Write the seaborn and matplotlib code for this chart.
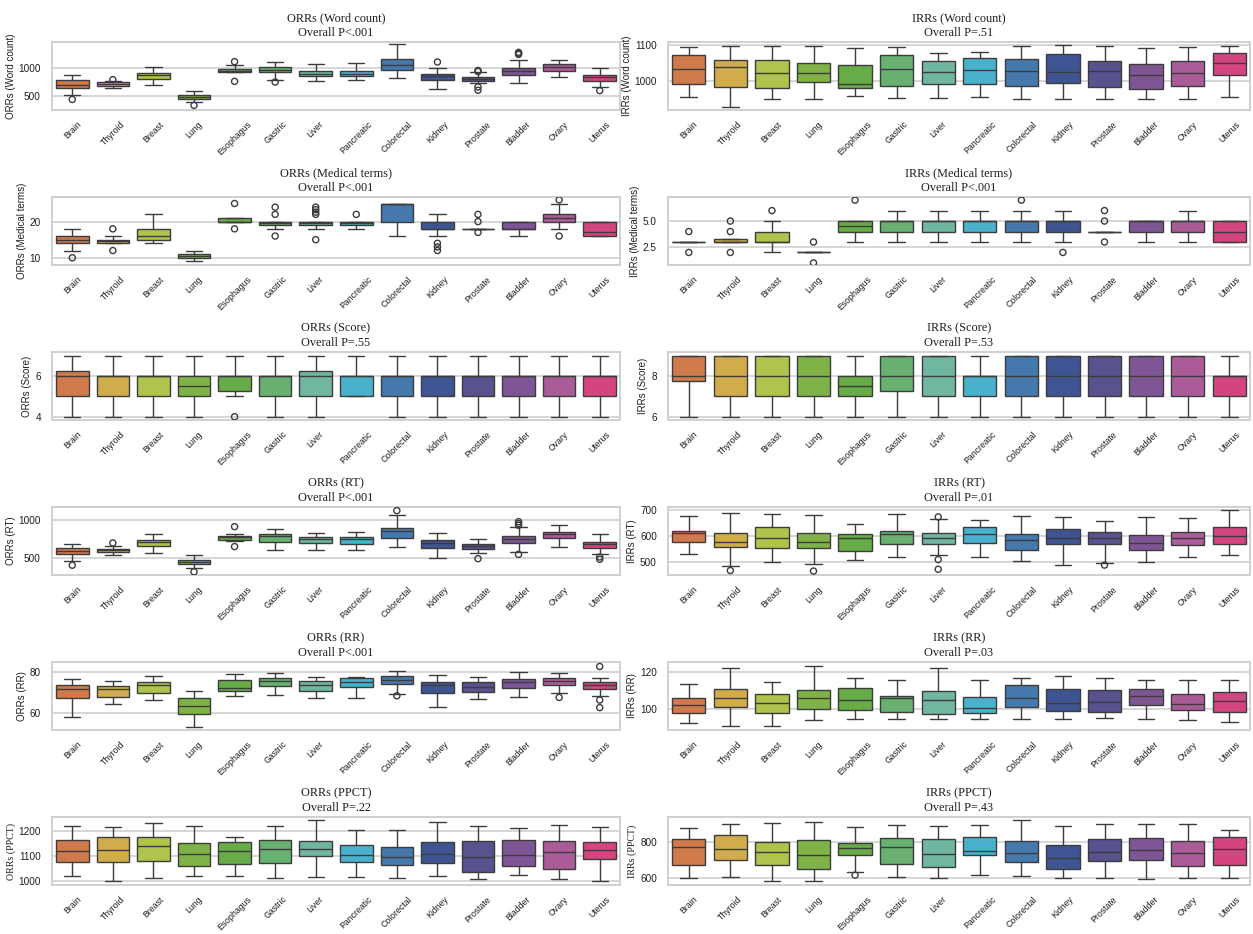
import matplotlib
matplotlib.use("Agg")
import matplotlib.pyplot as plt
import pandas as pd
import seaborn as sns

# ---------------------------------------------------------------------------
# Data: per-cancer box summaries (low whisker, Q1, median, Q3, high whisker)
# and the outlying readings drawn as open circles.
# ---------------------------------------------------------------------------
categories = ["Brain", "Thyroid", "Breast", "Lung", "Esophagus", "Gastric", "Liver",
              "Pancreatic", "Colorectal", "Kidney", "Prostate", "Bladder", "Ovary", "Uterus"]

colors = ["#d0794a", "#d0ad4a", "#afc34d", "#7fb347", "#67ac47", "#67b06f", "#70b7a2",
          "#4ab1cd", "#4579ae", "#3f5593", "#58528f", "#7f5695", "#ab5c98", "#d44580"]

orr_word_stats = [(506, 639, 699, 777, 880), (639, 681, 717, 741, 772), (687, 807, 874, 910, 1030),
                  (386, 440, 476, 518, 590), (922, 934, 958, 982, 1060), (789, 922, 970, 1030, 1120),
                  (771, 850, 898, 946, 1078), (777, 850, 898, 958, 1090), (819, 970, 1060, 1169, 1440),
                  (627, 777, 850, 898, 1000), (729, 771, 801, 838, 928), (729, 867, 952, 1000, 1150),
                  (838, 952, 1030, 1078, 1150), (657, 771, 838, 880, 1012)]
orr_word_out_cat = ["Brain", "Thyroid", "Lung", "Esophagus", "Esophagus", "Gastric", "Kidney",
                    "Prostate", "Prostate", "Prostate", "Prostate", "Bladder", "Bladder", "Bladder", "Uterus"]
orr_word_out_val = [428, 790, 320, 1120, 759, 747, 1114, 958, 940, 657, 597, 1290, 1270, 1253, 590]

irr_word_stats = [(956, 993, 1034, 1072, 1095), (929, 984, 1040, 1059, 1099), (951, 981, 1023, 1059, 1099),
                  (950, 997, 1023, 1050, 1099), (958, 981, 993, 1045, 1091), (952, 988, 1035, 1073, 1096),
                  (954, 991, 1026, 1056, 1079), (956, 993, 1032, 1065, 1081), (951, 988, 1029, 1061, 1099),
                  (951, 996, 1027, 1075, 1101), (951, 984, 1029, 1056, 1099), (950, 977, 1018, 1047, 1093),
                  (951, 988, 1023, 1056, 1096), (955, 1018, 1052, 1079, 1099)]
irr_word_out_cat = []
irr_word_out_val = []

orr_med_stats = [(12, 14, 15, 16, 18), (14, 14, 14.5, 15, 16), (14, 15, 16, 18, 22), (9, 10, 10.5, 11, 12),
                 (20, 20, 20, 21, 21), (18, 19, 19.5, 20, 20), (18, 19, 19.5, 20, 20), (18, 19, 19.5, 20, 20),
                 (16, 20, 25, 25, 25), (16, 18, 18, 20, 22), (18, 18, 18, 18, 18), (16, 18, 18, 20, 20),
                 (18, 20, 21, 22, 25), (16, 16, 17, 20, 20)]
orr_med_out_cat = ["Brain", "Thyroid", "Thyroid", "Esophagus", "Esophagus", "Gastric", "Gastric", "Gastric",
                   "Liver", "Liver", "Liver", "Liver", "Liver", "Pancreatic", "Kidney", "Kidney", "Kidney",
                   "Prostate", "Prostate", "Prostate", "Ovary", "Ovary"]
orr_med_out_val = [10, 18, 12, 25, 18, 24, 22, 16, 24, 23.3, 22.6, 22, 15, 22, 14, 13, 12, 22, 20, 17, 26, 16]

irr_med_stats = [(3, 3, 3, 3, 3), (3, 3, 3, 3.25, 3.25), (2, 3, 3, 4, 5), (2, 2, 2, 2, 2), (3, 4, 4.5, 5, 5),
                 (3, 4, 5, 5, 6), (3, 4, 5, 5, 6), (3, 4, 5, 5, 6), (3, 4, 5, 5, 6), (3, 4, 5, 5, 6),
                 (4, 4, 4, 4, 4), (3, 4, 5, 5, 5), (3, 4, 5, 5, 6), (3, 3, 4, 5, 5)]
irr_med_out_cat = ["Brain", "Brain", "Thyroid", "Thyroid", "Thyroid", "Breast", "Lung", "Lung", "Esophagus",
                   "Colorectal", "Kidney", "Prostate", "Prostate", "Prostate"]
irr_med_out_val = [4, 2, 5, 4, 2, 6, 3, 1, 7, 7, 2, 6, 5, 3]

orr_score_stats = [(4, 5, 6, 6.25, 7), (4, 5, 6, 6, 7), (4, 5, 6, 6, 7), (4, 5, 5.5, 6, 7), (5, 5.25, 6, 6, 7),
                   (4, 5, 6, 6, 7), (4, 5, 6, 6.25, 7), (5, 5, 6, 6, 7), (4, 5, 6, 6, 7), (4, 5, 6, 6, 7),
                   (4, 5, 6, 6, 7), (4, 5, 6, 6, 7), (4, 5, 6, 6, 7), (4, 5, 6, 6, 7)]
orr_score_out_cat = ["Esophagus"]
orr_score_out_val = [4]

irr_score_stats = [(6, 7.75, 8, 9, 9), (6, 7, 8, 9, 9), (6, 7, 8, 9, 9), (6, 7, 8, 9, 9), (6, 7, 7.5, 8, 9),
                   (6, 7.25, 8, 9, 9), (6, 7, 8, 9, 9), (6, 7, 8, 8, 9), (6, 7, 8, 9, 9), (6, 7, 8, 9, 9),
                   (6, 7, 8, 9, 9), (6, 7, 8, 9, 9), (6, 7, 8, 9, 9), (6, 7, 8, 8, 9)]
irr_score_out_cat = []
irr_score_out_val = []

orr_rt_stats = [(461, 548, 591, 630, 687), (535, 578, 600, 622, 665), (565, 657, 709, 735, 813),
                (365, 426, 448, 470, 543), (722, 739, 774, 796, 817), (600, 717, 787, 817, 883),
                (613, 700, 748, 778, 826), (600, 687, 748, 783, 852), (652, 765, 861, 896, 1070),
                (504, 635, 704, 735, 826), (565, 622, 665, 691, 748), (578, 700, 757, 796, 913),
                (652, 761, 817, 852, 943), (556, 635, 687, 717, 813)]
orr_rt_out_cat = ["Brain", "Thyroid", "Lung", "Esophagus", "Esophagus", "Colorectal", "Prostate",
                  "Bladder", "Bladder", "Bladder", "Bladder", "Uterus", "Uterus"]
orr_rt_out_val = [404, 700, 317, 917, 652, 1130, 491, 983, 957, 935, 548, 513, 483]

irr_rt_stats = [(534, 579, 612, 620, 677), (487, 559, 577, 614, 689), (502, 555, 594, 636, 684),
                (494, 555, 580, 611, 681), (511, 542, 594, 609, 646), (521, 569, 609, 621, 684),
                (530, 571, 594, 611, 667), (519, 576, 609, 636, 664), (504, 546, 586, 610, 677),
                (492, 569, 594, 627, 675), (499, 571, 592, 616, 659), (502, 549, 575, 606, 675),
                (521, 567, 594, 615, 669), (530, 569, 602, 637, 700)]
irr_rt_out_cat = ["Thyroid", "Lung", "Liver", "Liver", "Liver", "Prostate"]
irr_rt_out_val = [469, 467, 674, 511, 474, 490]

orr_rr_stats = [(57.9, 67.2, 71.7, 73.9, 76.8), (64.5, 68.0, 71.7, 73.1, 76.0), (66.4, 70.1, 73.6, 75.5, 78.4),
                (53.3, 59.7, 63.7, 67.2, 70.9), (68.5, 70.7, 72.5, 76.3, 79.2), (68.8, 73.3, 76.0, 77.1, 79.7),
                (67.5, 70.7, 73.6, 75.7, 77.6), (67.2, 72.8, 75.2, 77.1, 77.9), (69.3, 74.4, 76.5, 78.1, 80.5),
                (62.9, 70.1, 73.6, 75.5, 78.7), (66.7, 70.4, 72.8, 75.5, 77.9), (67.8, 72.5, 75.2, 76.6, 80.0),
                (70.1, 73.9, 75.8, 77.1, 79.8), (68.5, 72.0, 73.8, 75.2, 77.4)]
orr_rr_out_cat = ["Colorectal", "Ovary", "Uterus", "Uterus", "Uterus"]
orr_rr_out_val = [68.5, 67.7, 82.9, 66.4, 62.7]

irr_rr_stats = [(92.1, 97.4, 101.8, 106.0, 113.5), (90.5, 100.7, 105.6, 110.5, 122.1),
                (90.7, 97.5, 103.0, 108.1, 114.7), (93.7, 99.8, 106.0, 110.2, 123.2),
                (94.2, 99.1, 104.9, 111.4, 116.7), (94.2, 98.1, 106.0, 106.8, 115.3),
                (94.2, 97.2, 104.7, 109.3, 122.1), (94.2, 97.7, 100.4, 106.1, 115.8),
                (94.6, 100.9, 105.6, 112.6, 116.7), (94.2, 98.6, 102.8, 110.5, 117.9),
                (95.1, 98.1, 103.5, 110.2, 116.7), (94.2, 101.8, 107.0, 110.5, 115.8),
                (93.7, 99.5, 102.6, 108.2, 115.8), (92.5, 98.2, 103.9, 109.1, 115.8)]
irr_rr_out_cat = []
irr_rr_out_val = []

orr_ppct_stats = [(1019, 1076, 1120, 1165, 1222), (1000, 1076, 1125, 1178, 1219), (1013, 1080, 1140, 1178, 1233),
                  (1019, 1059, 1107, 1152, 1222), (1019, 1066, 1120, 1156, 1178), (1010, 1072, 1129, 1166, 1222),
                  (1014, 1100, 1129, 1160, 1246), (1017, 1076, 1105, 1146, 1206), (1013, 1063, 1096, 1136, 1205),
                  (1019, 1070, 1107, 1156, 1239), (1007, 1036, 1095, 1162, 1222), (1023, 1060, 1105, 1165, 1213),
                  (1006, 1046, 1116, 1160, 1225), (1000, 1089, 1125, 1158, 1218)]
orr_ppct_out_cat = []
orr_ppct_out_val = []

irr_ppct_stats = [(598, 670, 773, 814, 877), (606, 697, 760, 838, 895), (584, 674, 742, 796, 903),
                  (584, 652, 728, 809, 910), (631, 724, 766, 793, 881), (604, 676, 769, 820, 892),
                  (602, 658, 733, 814, 886), (616, 724, 751, 827, 892), (613, 688, 737, 805, 919),
                  (602, 649, 712, 782, 888), (598, 692, 742, 813, 895), (593, 697, 755, 820, 897),
                  (602, 665, 737, 802, 895), (598, 674, 760, 827, 865)]
irr_ppct_out_cat = ["Esophagus"]
irr_ppct_out_val = [616]

# ---------------------------------------------------------------------------
# Styling
# ---------------------------------------------------------------------------
sns.set_theme(style="whitegrid")
plt.rcParams["font.family"] = ["Liberation Sans", "DejaVu Sans"]
plt.rcParams["axes.edgecolor"] = "#d0d0d0"
plt.rcParams["axes.linewidth"] = 1.4
plt.rcParams["grid.color"] = "#d6d6d6"
plt.rcParams["grid.linewidth"] = 1.4

LINE = "#3c3c3c"
TEXT = "#1e1e1e"
SERIF = ["Liberation Serif", "DejaVu Serif"]

panels = [
    ("ORRs (Word count)", "Overall P<.001", orr_word_stats, orr_word_out_cat, orr_word_out_val,
     (235, 1480), [500, 1000], False),
    ("IRRs (Word count)", "Overall P=.51", irr_word_stats, irr_word_out_cat, irr_word_out_val,
     (920, 1109), [1000, 1100], False),
    ("ORRs (Medical terms)", "Overall P<.001", orr_med_stats, orr_med_out_cat, orr_med_out_val,
     (8.0, 26.8), [10, 20], False),
    ("IRRs (Medical terms)", "Overall P<.001", irr_med_stats, irr_med_out_cat, irr_med_out_val,
     (0.8, 7.3), [2.5, 5.0], False),
    ("ORRs (Score)", "Overall P=.55", orr_score_stats, orr_score_out_cat, orr_score_out_val,
     (3.84, 7.19), [4, 6], False),
    ("IRRs (Score)", "Overall P=.53", irr_score_stats, irr_score_out_cat, irr_score_out_val,
     (5.84, 9.19), [6, 8], False),
    ("ORRs (RT)", "Overall P<.001", orr_rt_stats, orr_rt_out_cat, orr_rt_out_val,
     (274, 1178), [500, 1000], False),
    ("IRRs (RT)", "Overall P=.01", irr_rt_stats, irr_rt_out_cat, irr_rt_out_val,
     (452, 712), [500, 600, 700], False),
    ("ORRs (RR)", "Overall P<.001", orr_rr_stats, orr_rr_out_cat, orr_rr_out_val,
     (51.7, 85.1), [60, 80], False),
    ("IRRs (RR)", "Overall P=.03", irr_rr_stats, irr_rr_out_cat, irr_rr_out_val,
     (88.4, 125.3), [100, 120], False),
    ("ORRs (PPCT)", "Overall P=.22", orr_ppct_stats, orr_ppct_out_cat, orr_ppct_out_val,
     (983, 1258), [1000, 1100, 1200], True),
    ("IRRs (PPCT)", "Overall P=.43", irr_ppct_stats, irr_ppct_out_cat, irr_ppct_out_val,
     (562, 935), [600, 800], True),
]

W, H = 1253, 934
fig = plt.figure(figsize=(W / 100, H / 100), dpi=100)

col_x = [(52, 620), (668, 1250)]
row_top = [42, 197, 352, 507, 662, 817]
ax_h = 68


def draw_panel(ax, label, subtitle, stats, out_cat, out_val, ylim, yticks, serif_label):
    # Each summary becomes five readings; whiskers span the full range of them.
    rows = [(cat, v) for cat, st in zip(categories, stats) for v in st]
    df = pd.DataFrame(rows, columns=["cancer", "value"])
    sns.boxplot(data=df, x="cancer", y="value", hue="cancer", order=categories,
                hue_order=categories, palette=colors, saturation=1, whis=(0, 100),
                showfliers=False, width=0.8, linewidth=1.0, linecolor=LINE,
                legend=False, ax=ax)
    if out_val:
        n_before = len(ax.collections)
        odf = pd.DataFrame({"cancer": out_cat, "value": out_val})
        sns.stripplot(data=odf, x="cancer", y="value", order=categories, jitter=False,
                      size=4.4, ax=ax, color=LINE)
        for pts in ax.collections[n_before:]:
            pts.set_facecolor("none")
            pts.set_edgecolor(LINE)
            pts.set_linewidth(1.0)

    ax.set_ylim(*ylim)
    ax.set_yticks(yticks)
    ax.set_xlim(-0.5, len(categories) - 0.5)
    ax.set_xlabel("")
    ax.set_title(f"{label}\n{subtitle}", family=SERIF, fontsize=8.8, pad=4,
                 linespacing=1.35, color=TEXT)
    if serif_label:
        ax.set_ylabel(label, family=SERIF, fontsize=7.2, color=TEXT, labelpad=2)
    else:
        ax.set_ylabel(label, fontsize=7.0, color=TEXT, labelpad=2)
    ax.tick_params(axis="x", rotation=45, labelsize=6.3, pad=1, colors=TEXT)
    ax.tick_params(axis="y", labelsize=7.2, pad=2, colors=TEXT)
    for t in ax.get_xticklabels():
        t.set_ha("center")
    ax.xaxis.grid(False)
    ax.yaxis.grid(True)


for i, (label, subtitle, stats, oc, ov, ylim, yticks, serif_label) in enumerate(panels):
    r, c = divmod(i, 2)
    x0, x1 = col_x[c]
    top = row_top[r]
    ax = fig.add_axes([x0 / W, (H - top - ax_h) / H, (x1 - x0) / W, ax_h / H])
    draw_panel(ax, label, subtitle, stats, oc, ov, ylim, yticks, serif_label)

fig.savefig("out.png", dpi=100, facecolor="white")
